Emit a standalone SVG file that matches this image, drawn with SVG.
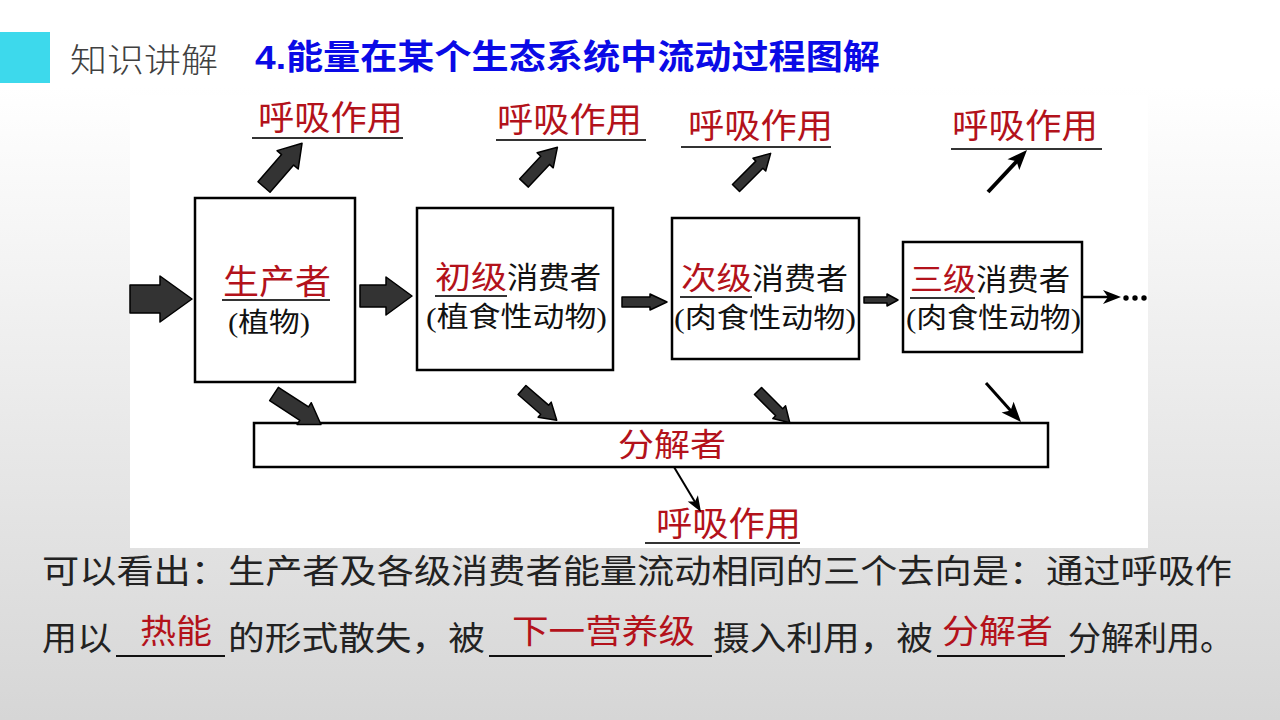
<svg xmlns="http://www.w3.org/2000/svg" width="1280" height="720" viewBox="0 0 1280 720">
<defs>
<linearGradient id="bg" x1="0" y1="0" x2="0" y2="1">
<stop offset="0" stop-color="#ffffff"/>
<stop offset="0.12" stop-color="#ffffff"/>
<stop offset="1" stop-color="#d6d6d6"/>
</linearGradient>
</defs>
<style>
.box{fill:#fff;stroke:#000;stroke-width:2.5}
.blk{fill:#333;stroke:#000;stroke-width:1.5;stroke-linejoin:round}
.head{fill:#000;stroke:none}
.red{fill:#b3121b;font-family:"Noto Sans CJK SC","Noto Sans",sans-serif}
.txt{fill:#111;font-family:"Liberation Serif","Noto Sans CJK SC",serif}
.ul{stroke:#333;stroke-width:2}
.ul2{stroke:#111;stroke-width:2}
.body{fill:#222;font-family:"Noto Sans CJK SC","Noto Sans",sans-serif}
</style>
<rect width="1280" height="720" fill="url(#bg)"/>
<rect x="130" y="95" width="1018" height="453" fill="#fff"/>
<g id="header">
<rect x="0" y="32" width="50" height="51" fill="#3dd9ec"/>
<text x="70" y="72" font-size="33" fill="#404040" font-family="Noto Sans CJK SC,sans-serif" font-weight="300" textLength="148" lengthAdjust="spacingAndGlyphs">知识讲解</text>
<text x="255" y="69" font-size="34" fill="#0a0ae6" font-weight="bold" font-family="Liberation Sans,Noto Sans CJK SC,sans-serif" textLength="625" lengthAdjust="spacingAndGlyphs">4.能量在某个生态系统中流动过程图解</text>
</g>
<g id="producer">
<rect class="box" x="195" y="198" width="160" height="184"/>
<text class="red" x="223" y="294" font-size="34" textLength="108" lengthAdjust="spacingAndGlyphs">生产者</text>
<line class="ul" x1="222" y1="300" x2="330" y2="300"/>
<text class="txt" x="228" y="332" font-size="27" textLength="82" lengthAdjust="spacingAndGlyphs">(植物)</text>
</g>
<g id="primary">
<rect class="box" x="417" y="208" width="196" height="162"/>
<text class="red" x="435" y="288" font-size="31" textLength="72" lengthAdjust="spacingAndGlyphs">初级</text>
<text class="txt" x="507" y="288" font-size="30" textLength="94" lengthAdjust="spacingAndGlyphs">消费者</text>
<line class="ul" x1="435" y1="296" x2="507" y2="296"/>
<text class="txt" x="426" y="327" font-size="28" textLength="181" lengthAdjust="spacingAndGlyphs">(植食性动物)</text>
</g>
<g id="secondary">
<rect class="box" x="672" y="218" width="187" height="141"/>
<text class="red" x="681" y="289" font-size="31" textLength="71" lengthAdjust="spacingAndGlyphs">次级</text>
<text class="txt" x="752" y="289" font-size="30" textLength="96" lengthAdjust="spacingAndGlyphs">消费者</text>
<line class="ul" x1="680" y1="297" x2="752" y2="297"/>
<text class="txt" x="674" y="328" font-size="28" textLength="182" lengthAdjust="spacingAndGlyphs">(肉食性动物)</text>
</g>
<g id="tertiary">
<rect class="box" x="903" y="242" width="179" height="110"/>
<text class="red" x="910" y="290" font-size="31" textLength="66" lengthAdjust="spacingAndGlyphs">三级</text>
<text class="txt" x="976" y="290" font-size="30" textLength="94" lengthAdjust="spacingAndGlyphs">消费者</text>
<line class="ul" x1="910" y1="298" x2="975" y2="298"/>
<text class="txt" x="906" y="328" font-size="28" textLength="175" lengthAdjust="spacingAndGlyphs">(肉食性动物)</text>
</g>
<g id="decomposer">
<rect class="box" x="254" y="423" width="794" height="44"/>
<text class="red" x="672" y="456" font-size="32" text-anchor="middle" textLength="108" lengthAdjust="spacingAndGlyphs">分解者</text>
</g>
<g id="resp1">
<text class="red" x="258" y="130" font-size="34" textLength="145" lengthAdjust="spacingAndGlyphs">呼吸作用</text>
<line class="ul" x1="252" y1="138" x2="403" y2="138"/>
</g>
<g id="resp2">
<text class="red" x="497" y="132" font-size="34" textLength="145" lengthAdjust="spacingAndGlyphs">呼吸作用</text>
<line class="ul" x1="496" y1="140" x2="646" y2="140"/>
</g>
<g id="resp3">
<text class="red" x="688" y="138" font-size="34" textLength="145" lengthAdjust="spacingAndGlyphs">呼吸作用</text>
<line class="ul" x1="681" y1="147" x2="831" y2="147"/>
</g>
<g id="resp4">
<text class="red" x="952" y="138" font-size="34" textLength="146" lengthAdjust="spacingAndGlyphs">呼吸作用</text>
<line class="ul" x1="951" y1="149" x2="1102" y2="149"/>
</g>
<g id="resp5">
<text class="red" x="656" y="536" font-size="34" textLength="145" lengthAdjust="spacingAndGlyphs">呼吸作用</text>
<line class="ul" x1="645" y1="543" x2="800" y2="543"/>
</g>
<g id="connectors">
<path class="blk" transform="translate(130,299)" d="M0,-14 L30,-14 L30,-23 L62,0 L30,23 L30,14 L0,14 Z"/>
<path class="blk" transform="translate(360,296)" d="M0,-11 L26,-11 L26,-19 L52,0 L26,19 L26,11 L0,11 Z"/>
<path class="blk" transform="translate(622,302)" d="M0,-5 L28,-5 L28,-8 L45,0 L28,8 L28,5 L0,5 Z"/>
<path class="blk" transform="translate(864,300)" d="M0,-3 L23,-3 L23,-6 L34,0 L23,6 L23,3 L0,3 Z"/>
<line x1="1083" y1="297" x2="1110" y2="297" stroke="#000" stroke-width="2.5"/>
<path class="head" d="M1121,297 L1103,290 L1108,297 L1103,304 Z"/>
<circle cx="1126" cy="298" r="2.7" fill="#000"/>
<circle cx="1135" cy="298" r="2.7" fill="#000"/>
<circle cx="1144" cy="298" r="2.7" fill="#000"/>
<path class="blk" transform="translate(264,187) rotate(-49)" d="M0,-8 L36,-8 L36,-14 L58,0 L36,14 L36,8 L0,8 Z"/>
<path class="blk" transform="translate(524,183) rotate(-47)" d="M0,-6 L31,-6 L31,-11 L49,0 L31,11 L31,6 L0,6 Z"/>
<path class="blk" transform="translate(736,188) rotate(-45)" d="M0,-5 L33,-5 L33,-9 L49,0 L33,9 L33,5 L0,5 Z"/>
<line x1="988" y1="192" x2="1017" y2="161" stroke="#000" stroke-width="4"/>
<path class="head" d="M1027,150 L1019.3,170.1 L1016.5,161.3 L1007.5,159.3 Z"/>
<path class="blk" transform="translate(274,394) rotate(33)" d="M0,-8 L36,-8 L36,-13 L56,0 L36,13 L36,8 L0,8 Z"/>
<path class="blk" transform="translate(522,390) rotate(41)" d="M0,-6 L30,-6 L30,-10 L46,0 L30,10 L30,6 L0,6 Z"/>
<path class="blk" transform="translate(758,391) rotate(45)" d="M0,-5 L30,-5 L30,-9 L45,0 L30,9 L30,5 L0,5 Z"/>
<line x1="986" y1="383" x2="1011" y2="411" stroke="#000" stroke-width="3"/>
<path class="head" d="M1021,422 L1001.6,412.4 L1010.6,410.6 L1013.6,401.8 Z"/>
<line x1="674" y1="467" x2="695" y2="502" stroke="#000" stroke-width="2"/>
<path class="head" d="M701,512 L687.7,501.4 L695,501.6 L697.9,495.2 Z"/>
</g>
<g id="summary">
<text class="body" x="42" y="583" font-size="33" textLength="1190" lengthAdjust="spacingAndGlyphs">可以看出：生产者及各级消费者能量流动相同的三个去向是：通过呼吸作</text>
<text class="body" x="42" y="650" font-size="33" textLength="70" lengthAdjust="spacingAndGlyphs">用以</text>
<line class="ul2" x1="116" y1="656" x2="225" y2="656"/>
<text class="red" x="140" y="643" font-size="33" textLength="72" lengthAdjust="spacingAndGlyphs">热能</text>
<text class="body" x="228" y="650" font-size="33" textLength="257" lengthAdjust="spacingAndGlyphs">的形式散失，被</text>
<line class="ul2" x1="489" y1="656" x2="712" y2="656"/>
<text class="red" x="512" y="643" font-size="33" textLength="183" lengthAdjust="spacingAndGlyphs">下一营养级</text>
<text class="body" x="713" y="650" font-size="33" textLength="220" lengthAdjust="spacingAndGlyphs">摄入利用，被</text>
<line class="ul2" x1="937" y1="656" x2="1065" y2="656"/>
<text class="red" x="942" y="643" font-size="33" textLength="111" lengthAdjust="spacingAndGlyphs">分解者</text>
<text class="body" x="1068" y="650" font-size="33" textLength="165" lengthAdjust="spacingAndGlyphs">分解利用。</text>
</g>
</svg>
